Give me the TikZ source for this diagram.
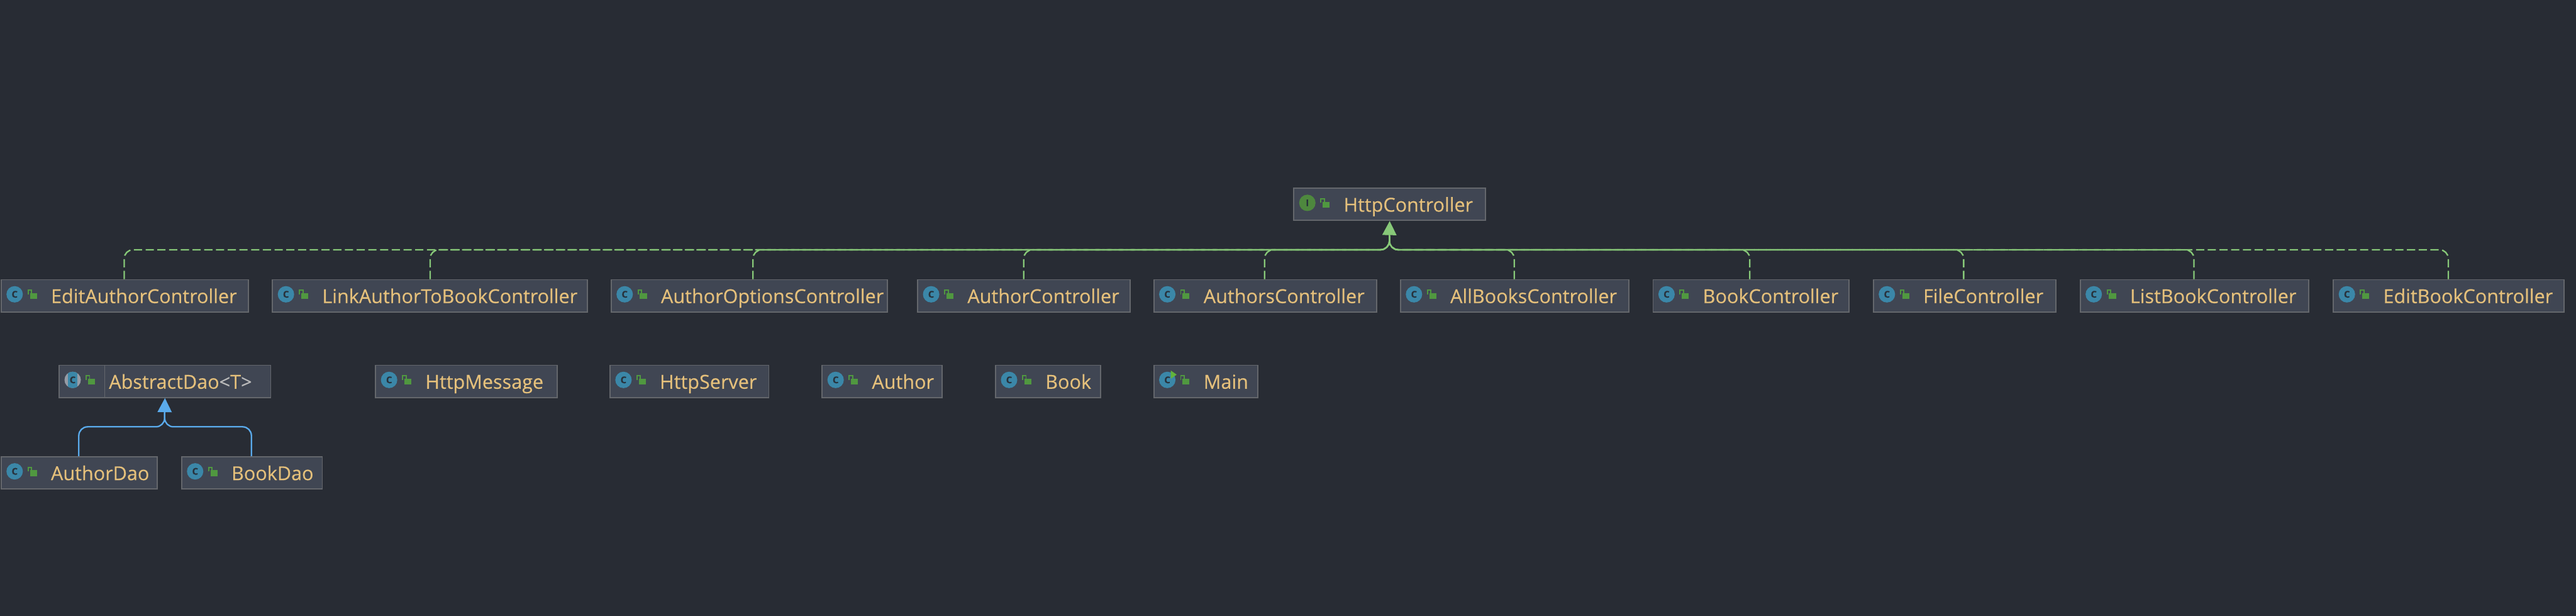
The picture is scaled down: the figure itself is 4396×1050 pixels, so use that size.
\documentclass[tikz,border=0pt]{standalone}
\usepackage{fontspec}
\setmainfont{Open Sans}[RawFeature={embolden=0.3}]
\usetikzlibrary{arrows.meta}
\definecolor{bgc}{RGB}{40,44,52}
\definecolor{boxfill}{RGB}{64,70,83}
\definecolor{boxline}{RGB}{100,103,108}
\definecolor{nametext}{RGB}{229,192,123}
\definecolor{greyt}{RGB}{187,187,187}
\definecolor{implc}{RGB}{135,200,120}
\definecolor{extc}{RGB}{90,170,235}
\definecolor{classc}{RGB}{59,135,168}
\definecolor{ifacec}{RGB}{78,136,62}
\definecolor{lockc}{RGB}{80,152,64}
\definecolor{icontxt}{RGB}{40,50,60}
\definecolor{ringc}{RGB}{150,155,165}
\definecolor{runc}{RGB}{98,180,60}
\tikzset{
  x=0.5pt,y=-0.5pt,
  umlbox/.style={draw=boxline,fill=boxfill,line width=1pt,rectangle,anchor=north west,
     minimum height=27.5pt,inner xsep=0pt,inner ysep=0pt,align=left,text=nametext,
     font=\fontsize{16.4pt}{20pt}\selectfont},
  implline/.style={draw=implc,line width=1.25pt,dash pattern=on 7pt off 3pt,rounded corners=7.5pt},
  extline/.style={draw=extc,line width=1.25pt,rounded corners=7.5pt},
  impltip/.style={draw=implc,line width=1.25pt,-{Triangle[length=12pt,width=12pt,fill=implc]}},
  exttip/.style={draw=extc,line width=1.25pt,-{Triangle[length=12pt,width=12pt,fill=extc]}},
  iconcircle/.style={circle,inner sep=0pt,minimum size=14pt},
  iconletter/.style={text=icontxt,font=\fontsize{8pt}{8pt}\selectfont\bfseries},
}
% #1 name, #2 left, #3 right, #4 top, #5 text
\newcommand{\umlclass}[5]{%
  \pgfmathsetlengthmacro{\boxw}{(#3-#2)*0.5pt}%
  \node[umlbox,minimum width=\boxw,text width=\boxw] (#1) at (#2,#4) {\rule[-7.5pt]{0pt}{27.5pt}\hspace*{42.5pt}#5};
}
\newcommand{\lockicon}[2]{% #1 left of box, #2 top of box
  \fill[lockc] (#1+50,#2+24) rectangle (#1+62,#2+34);
  \draw[lockc,line width=1pt] (#1+47,#2+26) -- (#1+47,#2+19) -- (#1+53,#2+19) -- (#1+53,#2+24);
}
\newcommand{\classicon}[2]{% #1 left, #2 top
  \node[iconcircle,fill=classc,iconletter] at (#1+24,#2+26) {C};
  \lockicon{#1}{#2}
}
\begin{document}
\begin{tikzpicture}
\useasboundingbox (0,0) rectangle (4396,1050);
\fill[bgc] (-10,-10) rectangle (4406,1060);
% boxes
\umlclass{http}{2207}{2534}{320}{HttpController}
\umlclass{editauthor}{1}{423}{476}{EditAuthorController}
\umlclass{linkauthor}{464}{1001}{476}{LinkAuthorToBookController}
\umlclass{authoroptions}{1042}{1513}{476}{AuthorOptionsController}
\umlclass{authorc}{1565}{1928}{476}{AuthorController}
\umlclass{authorsc}{1968}{2348}{476}{AuthorsController}
\umlclass{allbooks}{2389}{2779}{476}{AllBooksController}
\umlclass{bookc}{2820}{3154}{476}{BookController}
\umlclass{filec}{3196}{3507}{476}{FileController}
\umlclass{listbook}{3549}{3939}{476}{ListBookController}
\umlclass{editbook}{3981}{4375}{476}{EditBookController}
\umlclass{abstractdao}{100}{461}{622}{AbstractDao\textcolor{greyt}{<}T\textcolor{greyt}{>}}
\umlclass{httpmessage}{640}{950}{622}{HttpMessage}
\umlclass{httpserver}{1040}{1311}{622}{HttpServer}
\umlclass{author}{1402}{1607}{622}{Author}
\umlclass{book}{1698}{1877}{622}{Book}
\umlclass{mainc}{1968}{2145}{622}{Main}
\umlclass{authordao}{1}{267}{778}{AuthorDao}
\umlclass{bookdao}{309}{549}{778}{BookDao}
% icons
\node[iconcircle,fill=ifacec,iconletter] at (2231,346) {I};
\lockicon{2207}{320}
\foreach \a/\b in {1/476,464/476,1042/476,1565/476,1968/476,2389/476,2820/476,3196/476,3549/476,3981/476,640/622,1040/622,1402/622,1698/622,1968/622,1/778,309/778}{
  \classicon{\a}{\b}
}
% abstract class icon
\fill[ringc] (124,648) circle[radius=14];
\begin{scope}
  \clip (116,630) rectangle (132,666);
  \fill[classc] (124,648) circle[radius=14];
\end{scope}
\node[iconletter] at (124,648) {C};
\lockicon{100}{622}
\draw[boxline,line width=0.5pt] (178.5,622) -- (178.5,678);
% runnable marker on Main
\fill[runc] (1998,632) -- (2008,639) -- (1998,646) -- cycle;
% connectors
\coordinate (hj) at (2371,402);
\coordinate (dj) at (281,704);
\foreach \n/\xx in {editauthor/212,linkauthor/734,authoroptions/1285,authorc/1747,authorsc/2158,allbooks/2584,bookc/2986,filec/3351,listbook/3744,editbook/4178}{
  \coordinate (t) at (\xx,0);
  \draw[implline] (t |- \n.north) -- (\xx,426) -- (2371,426) -- (hj);
}
\draw[impltip] (hj) -- (http.south);
\foreach \n/\xx in {authordao/134.5,bookdao/429}{
  \coordinate (t) at (\xx,0);
  \draw[extline] (t |- \n.north) -- (\xx,728) -- (281,728) -- (dj);
}
\draw[exttip] (dj) -- (abstractdao.south);
\end{tikzpicture}
\end{document}
